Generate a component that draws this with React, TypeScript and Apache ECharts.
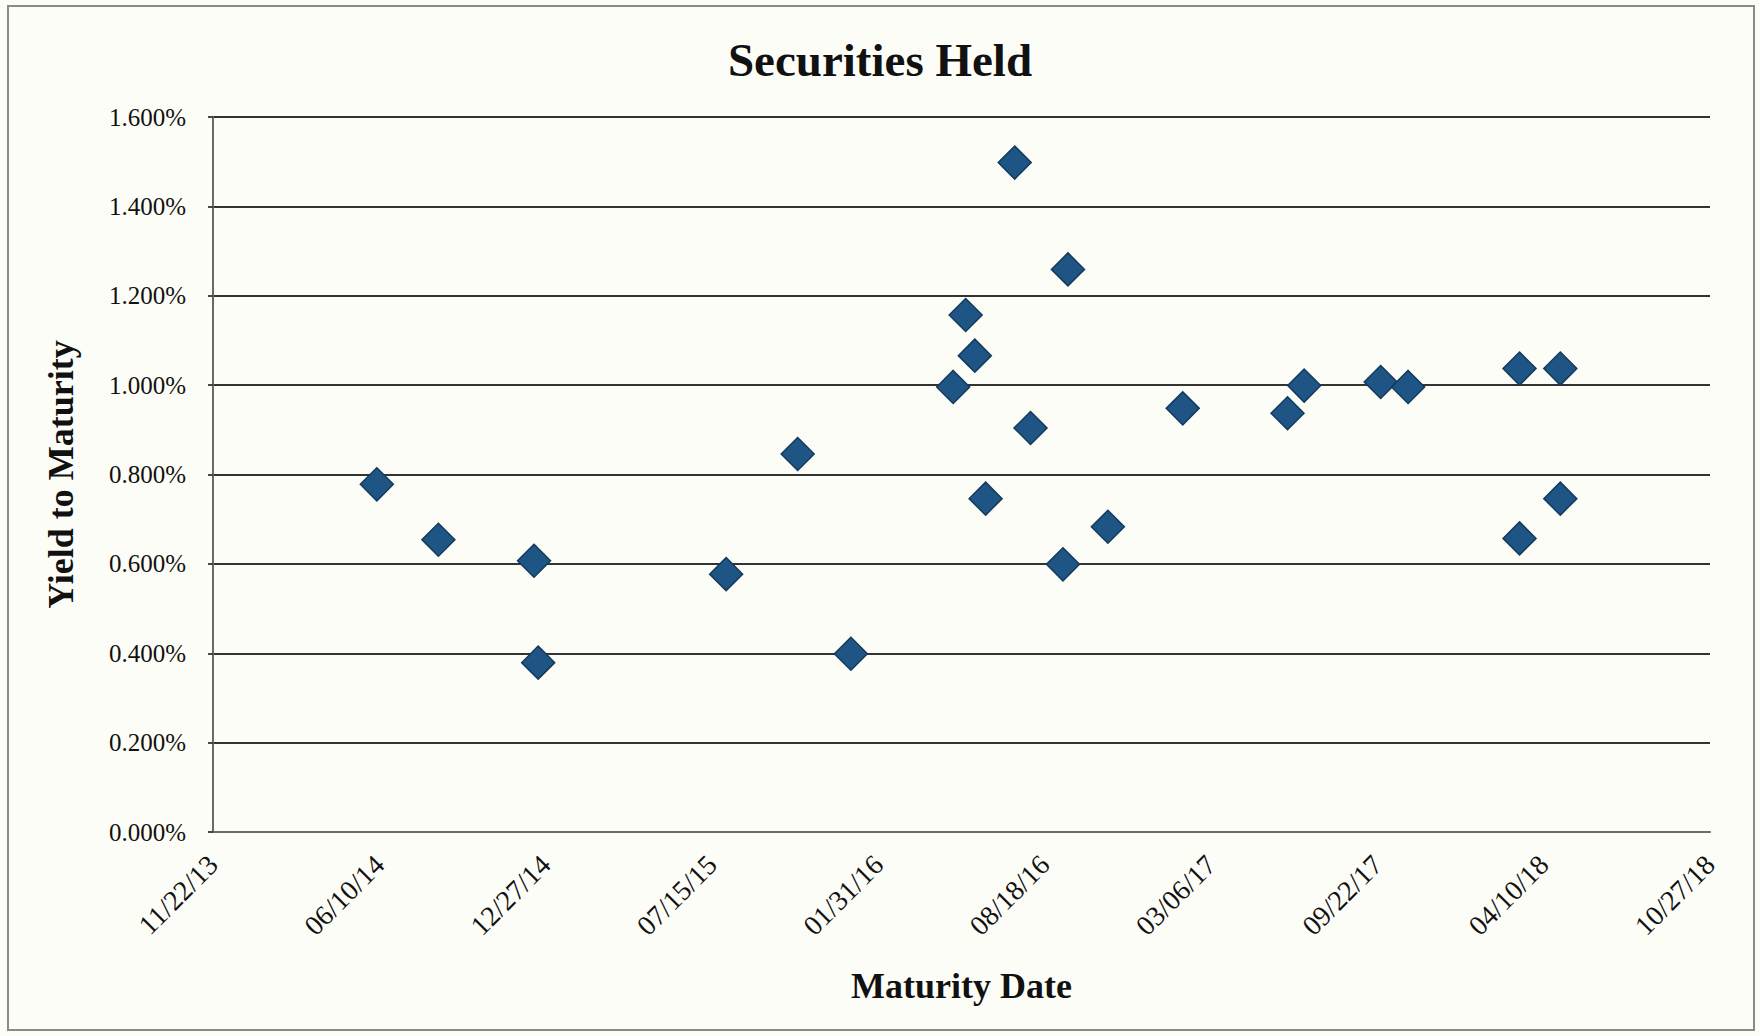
import React, { useEffect, useRef } from "react";
import * as echarts from "echarts";

// Maturity dates of securities held
const maturityDates: string[] = [
  "2014-06-07", "2014-08-20", "2014-12-13", "2014-12-18", "2015-08-01",
  "2015-10-26", "2015-12-29", "2016-04-30", "2016-05-15", "2016-05-26",
  "2016-06-08", "2016-07-13", "2016-08-01", "2016-09-09", "2016-09-15",
  "2016-11-02", "2017-01-31", "2017-06-06", "2017-06-26", "2017-09-26",
  "2017-10-29", "2018-03-12", "2018-04-30", "2018-03-12", "2018-04-30",
];
// Yield to maturity, in percent
const yieldsPct: number[] = [
  0.778, 0.654, 0.607, 0.379, 0.577,
  0.846, 0.399, 0.996, 1.157, 1.066,
  0.746, 1.498, 0.904, 0.599, 1.259,
  0.683, 0.948, 0.937, 0.999, 1.007,
  0.996, 1.037, 1.037, 0.657, 0.746,
];

// Axis ranges (x in Excel date serials)
const xMin = 41600; // 11/22/13
const xMax = 43400; // 10/27/18
const xStep = 200;
const yMin = 0;
const yMax = 1.6;
const yStep = 0.2;

const toSerial = (s: string): number => {
  const [y, m, d] = s.split("-").map(Number);
  return Date.UTC(y, m - 1, d) / 86400000 + 25569;
};
const serialToLabel = (v: number): string => {
  const dt = new Date((v - 25569) * 86400000);
  const mm = String(dt.getUTCMonth() + 1).padStart(2, "0");
  const dd = String(dt.getUTCDate()).padStart(2, "0");
  const yy = String(dt.getUTCFullYear() % 100).padStart(2, "0");
  return `${mm}/${dd}/${yy}`;
};

const FONT = '"Liberation Serif", "Times New Roman", serif';

export default function App() {
  const ref = useRef<HTMLDivElement>(null);
  useEffect(() => {
    if (!ref.current) return;
    const chart = echarts.init(ref.current, null, { renderer: "svg" });
    const data = maturityDates.map((d, i) => [toSerial(d), yieldsPct[i]]);
    chart.setOption({
      animation: false,
      backgroundColor: "#fdfdf8",
      title: {
        text: "Securities Held",
        left: "center",
        top: 31,
        textStyle: { fontFamily: FONT, fontSize: 47, fontWeight: "bold", color: "#111" },
      },
      graphic: [
        {
          type: "rect",
          shape: { x: 8, y: 6, width: 1746, height: 1024 },
          style: { fill: "none", stroke: "#8a8a8a", lineWidth: 2 },
          silent: true,
        },
      ],
      grid: { left: 213, right: 50, top: 117, bottom: 204, containLabel: false },
      xAxis: {
        type: "value",
        min: xMin,
        max: xMax,
        interval: xStep,
        name: "Maturity Date",
        nameLocation: "middle",
        nameGap: 136,
        nameTextStyle: { fontFamily: FONT, fontSize: 36, fontWeight: "bold", color: "#111" },
        axisLine: { show: true, lineStyle: { color: "#6a6a6a", width: 2 } },
        axisTick: { show: false },
        splitLine: { show: false },
        axisLabel: {
          rotate: 45,
          margin: 28,
          fontFamily: FONT,
          fontSize: 28,
          color: "#111",
          formatter: (v: number) => serialToLabel(v),
        },
      },
      yAxis: {
        type: "value",
        min: yMin,
        max: yMax,
        interval: yStep,
        name: "Yield to Maturity",
        nameLocation: "middle",
        nameRotate: 90,
        nameGap: 134,
        nameTextStyle: { fontFamily: FONT, fontSize: 36, fontWeight: "bold", color: "#111" },
        axisLine: { show: true, lineStyle: { color: "#6a6a6a", width: 2 } },
        axisTick: { show: true, length: 5, lineStyle: { color: "#333", width: 1.8 } },
        splitLine: { show: true, lineStyle: { color: "#333", width: 1.8 } },
        axisLabel: {
          margin: 27,
          fontFamily: FONT,
          fontSize: 25,
          color: "#111",
          formatter: (v: number) => v.toFixed(3) + "%",
        },
      },
      series: [
        {
          type: "scatter",
          data,
          symbol: "diamond",
          symbolSize: 33,
          itemStyle: {
            color: "#1f5585",
            borderColor: "#143a5e",
            borderWidth: 1.5,
            opacity: 1,
          },
        },
      ],
    });
    return () => chart.dispose();
  }, []);
  return (
    <div
      ref={ref}
      style={{ position: "fixed", left: 0, top: 0, width: 1760, height: 1036 }}
    />
  );
}
